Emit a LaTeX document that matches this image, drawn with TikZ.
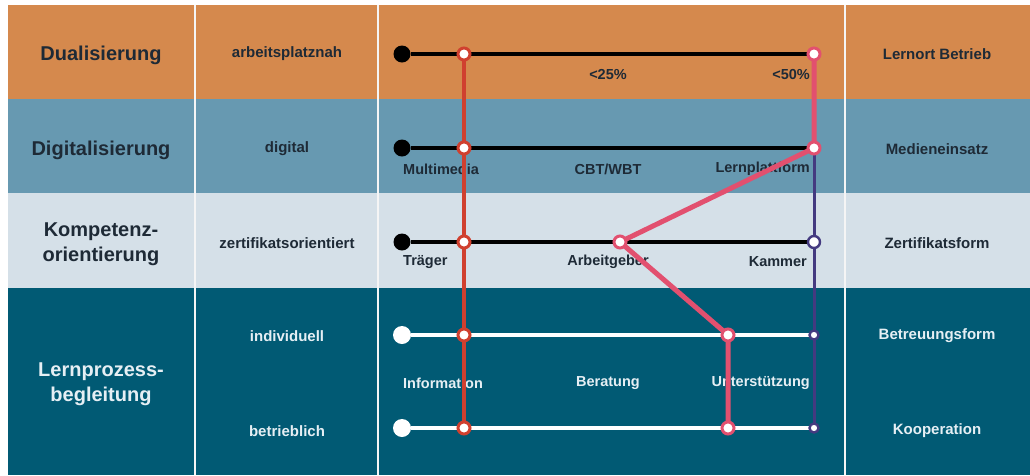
\documentclass[tikz,border=0pt]{standalone}
\usepackage{fontspec}
\setmainfont{Liberation Sans}
\usetikzlibrary{positioning}

\definecolor{roworange}{HTML}{D5894D}
\definecolor{rowblue}{HTML}{6799B1}
\definecolor{rowlight}{HTML}{D5E0E8}
\definecolor{rowdark}{HTML}{015A74}
\definecolor{txtdark}{HTML}{1E2A36}
\definecolor{txtlight}{HTML}{E6EFF4}
\definecolor{linered}{HTML}{D0402F}
\definecolor{linepink}{HTML}{E2506F}
\definecolor{linepurple}{HTML}{443A80}

\begin{document}
\begin{tikzpicture}[x=1pt, y=-1pt,
        heading/.style={font=\fontsize{20}{25}\selectfont\bfseries, align=center, inner sep=0pt},
        criterion/.style={font=\fontsize{15}{18}\selectfont\bfseries, inner sep=0pt},
        stoplabel/.style={font=\fontsize{14.5}{17}\selectfont\bfseries, inner sep=0pt},
        startdot/.style={circle, minimum size=17pt, inner sep=0pt},
        redstop/.style={circle, draw=linered, line width=3pt, fill=white, minimum size=12pt, inner sep=0pt},
        pinkstop/.style={circle, draw=linepink, line width=3pt, fill=white, minimum size=12pt, inner sep=0pt},
        purplestop/.style={circle, draw=linepurple, line width=2.4pt, fill=white, minimum size=#1, inner sep=0pt},
        purplestop/.default=12pt,
        track/.style={line width=4pt},
        dividerline/.style={draw=white!92!gray, line width=2pt}
    ]
    \useasboundingbox (0,0) rectangle (1030,475);

    % Row bands
    \fill[roworange] (8,5) rectangle (1030,99);
    \fill[rowblue] (8,99) rectangle (1030,193);
    \fill[rowlight] (8,193) rectangle (1030,288);
    \fill[rowdark] (8,288) rectangle (1030,475);

    % Column dividers
    \draw[dividerline] (195,5) -- (195,475);
    \draw[dividerline] (378,5) -- (378,475);
    \draw[dividerline] (845,5) -- (845,475);

    % Dimensions (left column)
    \node[heading, text=txtdark] (dual) at (101,55) {Dualisierung};
    \node[heading, text=txtdark] (digi) at (101,150) {Digitalisierung};
    \node[heading, text=txtdark] (komp) at (101,244) {Kompetenz-\\orientierung};
    \node[heading, text=txtlight] (lern) at (101,384) {Lernprozess-\\begleitung};

    % Criteria (second column)
    \node[criterion, text=txtdark] (nah) at (287,54) {arbeitsplatznah};
    \node[criterion, text=txtdark] (digital) at (287,149) {digital};
    \node[criterion, text=txtdark] (zert) at (287,243) {zertifikatsorientiert};
    \node[criterion, text=txtlight] (indiv) at (287,336) {individuell};
    \node[criterion, text=txtlight] (betr) at (287,431) {betrieblich};

    % Characteristics (right column)
    \node[criterion, text=txtdark] (ort) at (937,54) {Lernort Betrieb};
    \node[criterion, text=txtdark] (medien) at (937,149) {Medieneinsatz};
    \node[criterion, text=txtdark] (form) at (937,243) {Zertifikatsform};
    \node[criterion, text=txtlight] (betreu) at (937,336) {Betreuungsform};
    \node[criterion, text=txtlight] (koop) at (937,431) {Kooperation};

    % Track ends
    \node[startdot, fill=black] (s1) at (402,54) {};
    \node[startdot, fill=black] (s2) at (402,148) {};
    \node[startdot, fill=black] (s3) at (402,242) {};
    \node[startdot, fill=white, minimum size=18pt] (s4) at (402,335) {};
    \node[startdot, fill=white, minimum size=18pt] (s5) at (402,428) {};

    % Stop positions
    \coordinate (r1) at (464,54);
    \coordinate (r2) at (464,148);
    \coordinate (r3) at (464,242);
    \coordinate (r4) at (464,335);
    \coordinate (r5) at (464,428);
    \coordinate (p1) at (814,54);
    \coordinate (p2) at (814,148);
    \coordinate (p3) at (620,242);
    \coordinate (p4) at (728,335);
    \coordinate (p5) at (728,428);
    \coordinate (k3) at (814,242);
    \coordinate (k4) at (814,335);
    \coordinate (k5) at (814,428);

    % Horizontal tracks
    \draw[track, black] (s1) -- (p1);
    \draw[track, black] (s2) -- (p2);
    \draw[track, black] (s3) -- (k3);
    \draw[track, white] (s4) -- (k4);
    \draw[track, white] (s5) -- (k5);

    % Stop labels
    \node[stoplabel, text=txtdark] (lt25) at (608,75) {<25\%};
    \node[stoplabel, text=txtdark, anchor=east] (lt50) at (810,75) {<50\%};
    \node[stoplabel, text=txtdark, anchor=west] (multi) at (403,169) {Multimedia};
    \node[stoplabel, text=txtdark] (cbt) at (608,169) {CBT/WBT};
    \node[stoplabel, text=txtdark, anchor=east] (plattf) at (810,169) {Lernplattform};
    \node[stoplabel, text=txtdark, anchor=west] (traeger) at (403,262) {Träger};
    \node[stoplabel, text=txtdark] (arbg) at (608,262) {Arbeitgeber};
    \node[stoplabel, text=txtdark, anchor=east] (kammer) at (807,262) {Kammer};
    \node[stoplabel, text=txtlight, anchor=west] (info) at (403,383) {Information};
    \node[stoplabel, text=txtlight] (berat) at (608,383) {Beratung};
    \node[stoplabel, text=txtlight, anchor=east] (unterst) at (810,383) {Unterstützung};

    % Profile lines
    \draw[linered, line width=3.6pt] (r1) -- (r5);
    \draw[linepurple, line width=3pt] (p2) -- (k5);
    \draw[linepink, line width=5pt, line join=round] (p1) -- (p2) -- (p3) -- (p4) -- (p5);

    % Stops
    \foreach \n in {r1,r2,r3,r4,r5}
        \node[redstop] (\n stop) at (\n) {};
    \foreach \n in {p1,p2,p3,p4,p5}
        \node[pinkstop] (\n stop) at (\n) {};
    \node[purplestop=12pt] (k3stop) at (k3) {};
    \node[purplestop=9pt] (k4stop) at (k4) {};
    \node[purplestop=9pt] (k5stop) at (k5) {};
\end{tikzpicture}
\end{document}
